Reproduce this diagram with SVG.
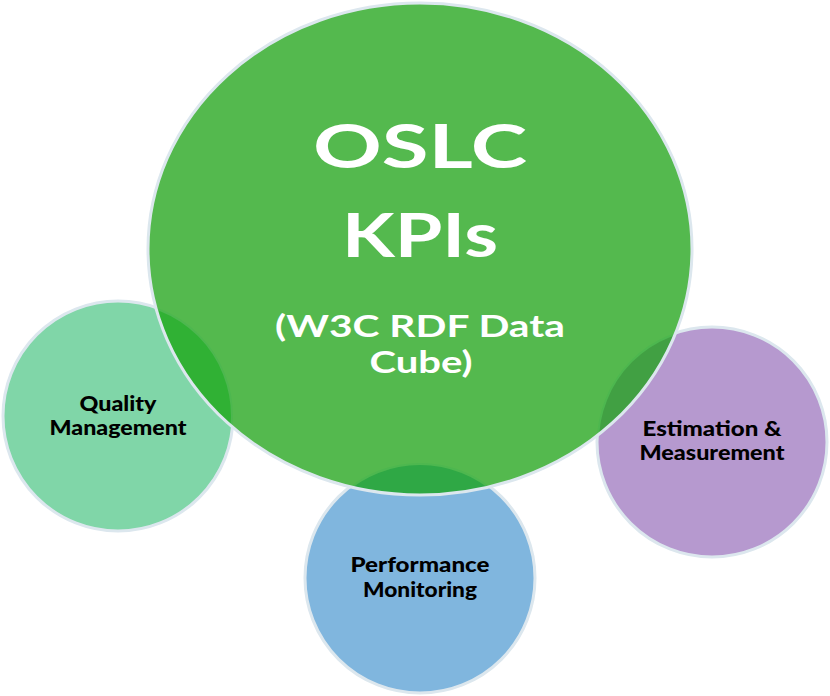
<svg xmlns="http://www.w3.org/2000/svg" width="830" height="696" viewBox="0 0 830 696">
  <style>
    .edge { stroke: #dce7ee; stroke-width: 3; }
    .lbl { font-family: Lato, "Open Sans", "DejaVu Sans", sans-serif; font-weight: 900; fill: #000000; font-size: 20px; text-anchor: middle; }
    .big { font-family: Lato, "Open Sans", "DejaVu Sans", sans-serif; font-weight: 700; fill: #ffffff; text-anchor: middle; }
    .ov { stroke: #4db74f; stroke-width: 2; }
  </style>
  <defs>
    <clipPath id="bigClip">
      <ellipse cx="420" cy="249" rx="272" ry="246"/>
    </clipPath>
  </defs>
  <rect width="830" height="696" fill="#ffffff"/>

  <g id="quality">
    <circle cx="118" cy="416" r="115" fill="#80d6a8" class="edge"/>
  </g>
  <g id="performance">
    <circle cx="420" cy="578" r="115" fill="#80b6de" class="edge"/>
  </g>
  <g id="estimation">
    <circle cx="712" cy="442" r="115" fill="#b699cf" class="edge"/>
  </g>

  <g id="oslc">
    <ellipse cx="420" cy="249" rx="272" ry="246" fill="#54b94e"/>
  </g>

  <g id="overlaps" clip-path="url(#bigClip)">
    <circle cx="118" cy="416" r="114" fill="#30b134" class="ov"/>
    <circle cx="420" cy="578" r="114" fill="#2fa845" class="ov"/>
    <circle cx="712" cy="442" r="114" fill="#41a043" class="ov"/>
  </g>

  <g id="oslc-edge">
    <ellipse cx="420" cy="249" rx="272" ry="246" fill="none" class="edge"/>
  </g>

  <g id="connectors"></g>

  <g id="oslc-text">
    <text class="big" x="420" y="168" font-size="62" textLength="214" lengthAdjust="spacingAndGlyphs">OSLC</text>
    <text class="big" x="420" y="257" font-size="62" textLength="156" lengthAdjust="spacingAndGlyphs">KPIs</text>
    <text class="big" x="420" y="337" font-size="31" textLength="290" lengthAdjust="spacingAndGlyphs">(W3C RDF Data</text>
    <text class="big" x="421" y="373" font-size="31" textLength="103" lengthAdjust="spacingAndGlyphs">Cube)</text>
  </g>

  <g id="quality-text">
    <text class="lbl" x="118" y="411" textLength="77" lengthAdjust="spacingAndGlyphs">Quality</text>
    <text class="lbl" x="118" y="435" textLength="137" lengthAdjust="spacingAndGlyphs">Management</text>
  </g>
  <g id="performance-text">
    <text class="lbl" x="420" y="572" textLength="139" lengthAdjust="spacingAndGlyphs">Performance</text>
    <text class="lbl" x="420" y="597" textLength="114" lengthAdjust="spacingAndGlyphs">Monitoring</text>
  </g>
  <g id="estimation-text">
    <text class="lbl" x="712" y="436" textLength="139" lengthAdjust="spacingAndGlyphs">Estimation &amp;</text>
    <text class="lbl" x="712" y="460" textLength="145" lengthAdjust="spacingAndGlyphs">Measurement</text>
  </g>
</svg>
